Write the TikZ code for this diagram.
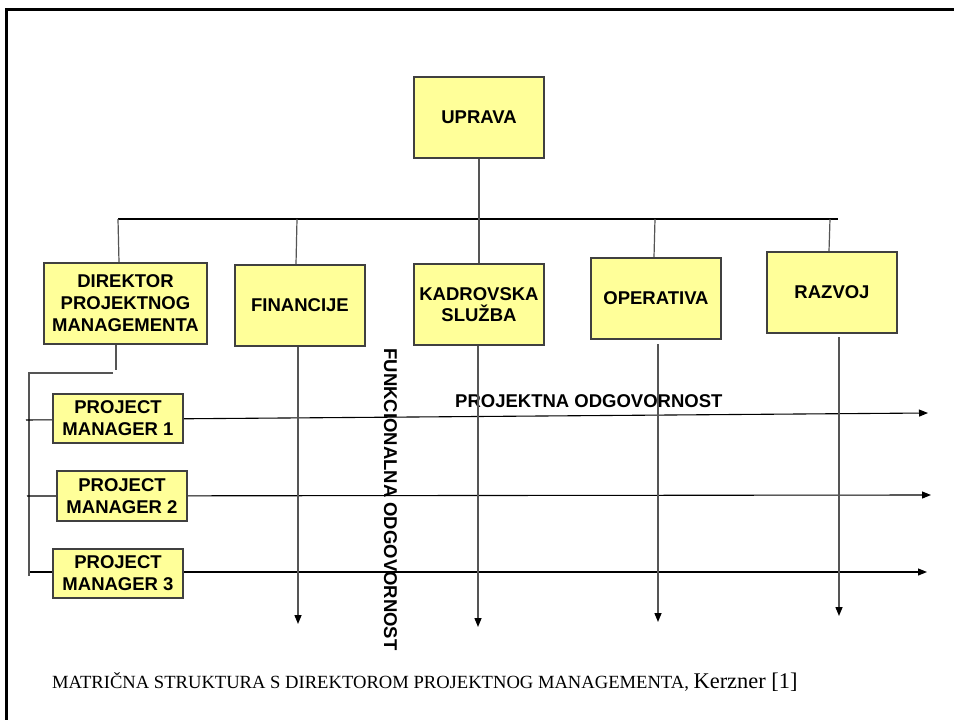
\documentclass[tikz,border=0pt]{standalone}
\usepackage{fontspec}
\setmainfont{Liberation Serif}
\newfontfamily\arialfont{Liberation Sans}
\usetikzlibrary{arrows.meta,backgrounds}
\definecolor{boxfill}{HTML}{FFFF99}
\definecolor{boxline}{HTML}{404040}
\definecolor{linkgray}{HTML}{555555}
\begin{document}
\begin{tikzpicture}[x=1pt,y=-1pt,
  unit/.style={draw=boxline,line width=1.4pt,fill=boxfill,inner sep=0pt,
    align=center,font=\arialfont\bfseries\fontsize{18.5}{22}\selectfont},
  bigbox/.style={unit,minimum width=130pt,minimum height=81pt},
  pmbox/.style={unit,minimum width=130pt,minimum height=49pt},
  link/.style={draw=linkgray,line width=1.2pt},
  bus/.style={draw=black,line width=1.2pt},
  flow/.style={draw=black,line width=1.1pt,-{Triangle[length=9pt,width=7pt,color=black]}},
  funcflow/.style={draw=linkgray,line width=1.4pt,-{Triangle[length=9pt,width=7pt,color=black]}},
  lbl/.style={font=\arialfont\bfseries\fontsize{18.5}{22}\selectfont,inner sep=0pt}]
\useasboundingbox (0,0) rectangle (954,720);

% page frame
\draw[line width=3pt,line cap=rect] (6,720) -- (6,9) -- (954,9);

% units
\node[bigbox] (upr) at (479,117.5) {UPRAVA};
\node[bigbox,minimum width=163pt] (dir) at (125.5,303.5) {DIREKTOR\\PROJEKTNOG\\MANAGEMENTA};
\node[bigbox] (fin) at (300,305.5) {FINANCIJE};
\node[bigbox] (kad) at (479,304.5) {KADROVSKA\\[-1pt]SLUŽBA};
\node[bigbox] (ope) at (656,298.5) {OPERATIVA};
\node[bigbox] (raz) at (832,292.5) {RAZVOJ};

\node[pmbox] (pm1) at (118,418.5) {PROJECT\\MANAGER 1};
\node[pmbox,minimum height=50pt] (pm2) at (122,496) {PROJECT\\MANAGER 2};
\node[pmbox] (pm3) at (118,573.5) {PROJECT\\MANAGER 3};

% labels
\node[lbl,anchor=base west] (projlbl) at (455,407) {PROJEKTNA ODGOVORNOST};
\node[lbl,rotate=-90] (funclbl) at (390.5,499.5) {FUNKCIONALNA ODGOVORNOST};
\node[inner sep=0pt,anchor=base west] (cap) at (52,688)
  {\fontsize{18.6}{22}\selectfont MATRIČNA STRUKTURA S DIREKTOROM PROJEKTNOG MANAGEMENTA,
   \fontsize{22.4}{26}\selectfont Kerzner [1]};

% bus points
\coordinate (b1) at (118,219);
\coordinate (b2) at (297,219);
\coordinate (b3) at (480,219);
\coordinate (b4) at (655,219);
\coordinate (b5) at (830,219);
\coordinate (bend) at (838,219);

% project lines: start points and arrow ends
\coordinate (s1) at (26,420);  \coordinate (e1) at (928,413);
\coordinate (s2) at (27,496);  \coordinate (e2) at (931,495);
\coordinate (s3) at (30,572);  \coordinate (e3) at (927,572);

% functional lines: arrow ends
\coordinate (f1) at (298,624);
\coordinate (f2) at (478,627);
\coordinate (f3) at (658,622);
\coordinate (f4) at (839,616);

% left spine under the director
\coordinate (d1) at (116,370);
\coordinate (d2) at (113,373);
\coordinate (d3) at (29,373);
\coordinate (d4) at (29,576);

\begin{pgfonlayer}{background}
  \fill[white] (0,0) rectangle (954,720);
  \draw[bus] (b1) -- (bend);
  \draw[link] (upr.south) -- (kad.north);
  \draw[link] (b1) -- (dir.north -| 119,0);
  \draw[link] (b2) -- (fin.north -| 296,0);
  \draw[link] (b4) -- (ope.north -| 654,0);
  \draw[link] (b5) -- (raz.north -| 829,0);

  \draw[link] (dir.south -| d1) -- (d1);
  \draw[link] (d2) -- (d3) -- (d4);

  \draw[flow] (s1) -- (e1);
  \draw[flow] (s2) -- (e2);
  \draw[flow] (s3) -- (e3);
\end{pgfonlayer}

\draw[funcflow] (fin.south -| f1) -- (f1);
\draw[funcflow] (kad.south -| f2) -- (f2);
\draw[funcflow] (f3 |- 0,344) -- (f3);
\draw[funcflow] (f4 |- 0,337) -- (f4);
\end{tikzpicture}
\end{document}
